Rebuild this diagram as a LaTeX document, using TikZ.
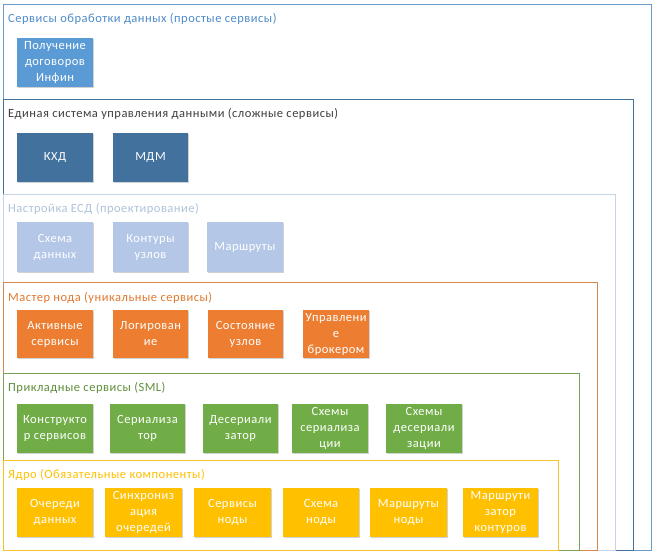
\documentclass[tikz,border=0pt]{standalone}
\usepackage{fontspec}
\setmainfont{Carlito}[LetterSpace=4.0]
\usetikzlibrary{shadows}
\definecolor{c1frame}{HTML}{6A9BCB}
\definecolor{c1text}{HTML}{4F8CC9}
\definecolor{c1fill}{HTML}{5B9BD5}
\definecolor{c2frame}{HTML}{41719C}
\definecolor{c2text}{HTML}{404040}
\definecolor{c2fill}{HTML}{41719C}
\definecolor{c3frame}{HTML}{C5D5E6}
\definecolor{c3text}{HTML}{B0C3DA}
\definecolor{c3fill}{HTML}{B4C7E7}
\definecolor{c4frame}{HTML}{D9884C}
\definecolor{c4text}{HTML}{E07A30}
\definecolor{c4fill}{HTML}{ED7D31}
\definecolor{c5frame}{HTML}{7BA05A}
\definecolor{c5text}{HTML}{5E8F3A}
\definecolor{c5fill}{HTML}{70AD47}
\definecolor{c6frame}{HTML}{F2C530}
\definecolor{c6text}{HTML}{FFC000}
\definecolor{c6fill}{HTML}{FFC000}
\tikzset{
  txt/.style={font=\fontsize{12.5}{16}\selectfont},
  frame/.style={draw=#1, line width=1pt},
  title/.style={txt, anchor=base west, inner sep=0pt, text=#1},
  box/.style={txt, fill=#1, text=white, align=center, inner sep=0pt,
    minimum width=76pt, minimum height=49pt,
    drop shadow={shadow xshift=1pt, shadow yshift=-1pt, fill=black, opacity=0.18}},
}
\begin{document}
\begin{tikzpicture}[x=1pt,y=-1pt]
\useasboundingbox (0,0) rectangle (657,556);
\fill[white] (0,0) rectangle (657,556);
% frames
\draw[frame=c1frame] (3,5) rectangle (651,550);
\draw[frame=c2frame] (3,100) rectangle (633,550);
\draw[frame=c3frame] (3,195) rectangle (615,550);
\draw[frame=c4frame] (3,283) rectangle (597,550);
\draw[frame=c5frame] (3,374) rectangle (579,550);
\draw[frame=c6frame] (3,461) rectangle (558,550);
% titles
\node[title=c1text] (t1) at (8,22.5) {Сервисы обработки данных (простые сервисы)};
\node[title=c2text] (t2) at (8,117.5) {Единая система управления данными (сложные сервисы)};
\node[title=c3text] (t3) at (8,212.5) {Настройка ЕСД (проектирование)};
\node[title=c4text] (t4) at (8,301.5) {Мастер нода (уникальные сервисы)};
\node[title=c5text] (t5) at (8,391.5) {Прикладные сервисы (SML)};
\node[title=c6text] (t6) at (8,478.5) {Ядро (Обязательные компоненты)};
% row 1
\node[box=c1fill] (infin) at (55,62.5) {Получение\\договоров\\Инфин};
% row 2
\node[box=c2fill] (khd) at (55,157.5) {КХД};
\node[box=c2fill, minimum width=75pt] (mdm) at (150.5,157.5) {МДМ};
% row 3
\node[box=c3fill, minimum height=50pt] (schema) at (55,247) {Схема\\данных};
\node[box=c3fill, minimum width=75pt, minimum height=50pt] (kontur) at (150.5,247) {Контуры\\узлов};
\node[box=c3fill, minimum height=50pt] (marsh) at (245,247) {Маршруты};
% row 4
\node[box=c4fill, minimum height=48pt] (aktiv) at (55,334) {Активные\\сервисы};
\node[box=c4fill, minimum width=75pt, minimum height=48pt] (log) at (150.5,334) {Логирован\\ие};
\node[box=c4fill, minimum width=75pt, minimum height=48pt] (sost) at (245.5,334) {Состояние\\узлов};
\node[box=c4fill, minimum width=66pt, minimum height=48pt] (upr) at (336,334) {Управлени\\е\\брокером};
% row 5
\node[box=c5fill] (konstr) at (55,428.5) {Конструкто\\р сервисов};
\node[box=c5fill, minimum width=75pt] (ser) at (147.5,428.5) {Сериализа\\тор};
\node[box=c5fill, minimum width=75pt] (deser) at (240.5,428.5) {Десериали\\затор};
\node[box=c5fill] (sxser) at (330,428.5) {Схемы\\сериализа\\ции};
\node[box=c5fill] (sxdeser) at (424,428.5) {Схемы\\десериали\\зации};
% row 6
\node[box=c6fill] (ocher) at (55,512.5) {Очереди\\данных};
\node[box=c6fill, minimum width=77pt] (sinh) at (143.5,512.5) {Синхрониз\\ация\\очередей};
\node[box=c6fill, minimum width=77pt] (servn) at (232.5,512.5) {Сервисы\\ноды};
\node[box=c6fill] (sxn) at (321,512.5) {Схема\\ноды};
\node[box=c6fill, minimum width=77pt] (marn) at (408.5,512.5) {Маршруты\\ноды};
\node[box=c6fill, minimum width=75pt] (marsk) at (500.5,512.5) {Маршрути\\затор\\контуров};
\end{tikzpicture}
\end{document}
